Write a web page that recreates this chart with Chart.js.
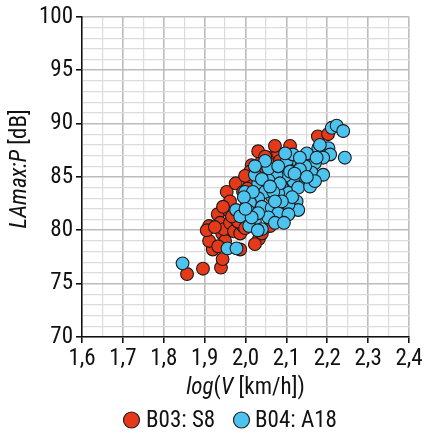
<!DOCTYPE html>
<html><head><meta charset="utf-8">
<script src="https://cdn.jsdelivr.net/npm/chart.js@4.4.1/dist/chart.umd.min.js"></script>
<style>html,body{margin:0;padding:0;background:#fff}#wrap{width:426px;height:433px}</style>
</head><body><div id="wrap"><canvas id="c" width="426" height="433"></canvas></div>
<script>
const seriesNames = ['B03: S8', 'B04: A18'];
const seriesColors = ['#e5391a', '#4dc3f0'];
// B03: S8  [log(V), LAmax]
const redX = [1.857,1.896,1.940,1.944,1.920,1.911,1.911,1.932,1.938,1.954,1.976,1.943,1.950,1.933,1.947,1.962,1.972,1.987,1.960,1.977,1.994,2.033,1.982,1.999,1.991,2.003,2.011,2.015,2.040,2.056,2.080,2.064,2.097,2.177,2.202,2.031,2.048,2.011,1.999,1.994,2.023,2.048,2.060,2.040,2.023,1.987,1.962,1.945,1.967,2.072,2.109,2.084,1.905,1.925,2.005,2.035,2.070,2.090];
const redY = [75.9,76.4,76.5,77.3,78.2,79.0,80.4,81.5,80.7,83.6,84.4,79.7,79.0,78.5,80.1,80.7,79.9,79.7,81.8,81.0,80.4,79.2,80.8,80.2,81.5,82.7,84.4,86.1,86.5,86.8,87.2,86.1,81.3,88.8,89.0,87.4,86.9,85.5,85.1,83.6,83.2,81.8,80.4,79.7,78.7,78.2,82.7,82.2,81.3,87.9,87.9,86.5,80.0,80.3,83.9,85.8,85.6,84.8];
// B04: A18
const blueX = [2.211,2.223,2.239,2.243,2.203,2.178,2.207,2.190,2.170,2.150,2.125,2.101,2.116,2.137,2.162,2.190,2.137,2.117,2.097,2.076,2.056,2.031,2.023,2.089,2.105,2.129,2.125,2.129,2.105,2.080,2.064,2.048,2.031,2.011,2.040,2.064,2.080,2.056,2.023,2.007,2.105,2.056,2.080,2.097,2.146,1.977,1.956,1.978,1.846,2.182,2.133,2.174,2.084,2.068,1.999,2.040,2.018,1.987,2.009,2.040,2.072,2.114,2.158,2.170,2.109,2.133,2.048,2.023,2.089,2.060,2.072,2.031,1.996,2.094,2.150,2.120,2.015,2.000,2.030];
const blueY = [89.6,89.8,89.3,86.8,87.7,87.7,87.1,86.8,86.3,87.2,86.6,86.5,87.1,86.1,85.4,85.2,84.7,84.6,85.1,85.2,84.7,84.4,85.2,84.0,83.5,84.0,82.7,81.9,82.4,83.5,83.2,83.6,83.0,82.6,82.2,82.1,81.6,81.2,80.8,81.8,81.5,85.8,86.0,87.2,86.0,81.9,78.3,78.3,76.9,88.0,86.8,86.8,84.4,83.6,83.6,84.8,83.6,81.3,80.4,80.1,80.7,83.1,84.1,84.6,85.5,85.7,86.5,86.0,82.7,84.1,82.7,81.6,83.1,80.7,85.0,85.3,81.2,82.0,80.0];
const xMin = 1.6, xMax = 2.4, yMin = 70, yMax = 100;

const FONT = "'Roboto Condensed','Liberation Sans Narrow','DejaVu Sans Condensed',Roboto,sans-serif";
const FS = 23;
const toPts = (xs, ys) => xs.map((x, i) => ({x, y: ys[i]}));

const decor = {
  id: 'decor',
  afterDraw(chart) {
    const ctx = chart.ctx, a = chart.chartArea;
    ctx.save();
    ctx.fillStyle = '#111';
    ctx.textBaseline = 'middle';
    const parts = [['log', true], ['(', false], ['V', true], [' [km/h])', false]];
    const f = (it) => (it ? 'italic ' : '') + FS + 'px ' + FONT;
    let w = 0; parts.forEach(p => { ctx.font = f(p[1]); w += ctx.measureText(p[0]).width; });
    let x = (a.left + a.right) / 2 - w / 2;
    parts.forEach(p => { ctx.font = f(p[1]); ctx.textAlign = 'left'; ctx.fillText(p[0], x, 388); x += ctx.measureText(p[0]).width; });
    const yp = [['LAmax:P', true], [' [dB]', false]];
    w = 0; yp.forEach(p => { ctx.font = f(p[1]); w += ctx.measureText(p[0]).width; });
    ctx.translate(20, (a.top + a.bottom) / 2 - 8);
    ctx.rotate(-Math.PI / 2);
    x = -w / 2;
    yp.forEach(p => { ctx.font = f(p[1]); ctx.fillText(p[0], x, 0); x += ctx.measureText(p[0]).width; });
    ctx.restore();
    ctx.save();
    const items = [[131.5, 146], [241.5, 255]];
    items.forEach((it, i) => {
      ctx.beginPath(); ctx.arc(it[0], 420, 8, 0, Math.PI * 2);
      ctx.fillStyle = seriesColors[i]; ctx.fill();
      ctx.lineWidth = 1.2; ctx.strokeStyle = '#222'; ctx.stroke();
      ctx.fillStyle = '#111'; ctx.font = FS + 'px ' + FONT; ctx.textAlign = 'left'; ctx.textBaseline = 'middle';
      ctx.fillText(seriesNames[i], it[1], 421);
    });
    ctx.restore();
  }
};

new Chart(document.getElementById('c'), {
  type: 'scatter',
  data: {
    datasets: [
      {label: seriesNames[0], data: toPts(redX, redY), backgroundColor: seriesColors[0], borderColor: '#1a1a1a', borderWidth: 1.1, pointRadius: 6.4, order: 2},
      {label: seriesNames[1], data: toPts(blueX, blueY), backgroundColor: seriesColors[1], borderColor: '#1a1a1a', borderWidth: 1.1, pointRadius: 6.4, order: 1}
    ]
  },
  options: {
    responsive: false, animation: false, devicePixelRatio: 1,
    layout: {padding: {top: 15, right: 17, left: 0, bottom: 0}},
    plugins: {legend: {display: false}, tooltip: {enabled: false}},
    scales: {
      x: {
        type: 'linear', min: xMin, max: xMax,
        afterBuildTicks(s) { const t = []; for (let i = 0; i <= 16; i++) t.push({value: +(1.6 + i * 0.05).toFixed(2)}); s.ticks = t; },
        afterFit(s) { s.height = 96; },
        border: {color: '#111', width: 1.5},
        grid: {
          color: c => (Math.round(c.tick.value * 100) % 10 === 0 ? '#bcbcbc' : '#dcdcdc'),
          lineWidth: c => (Math.round(c.tick.value * 100) % 10 === 0 ? 1.6 : 1.2),
          tickColor: c => (Math.round(c.tick.value * 100) % 10 === 0 ? '#111' : 'rgba(0,0,0,0)'),
          tickLength: 6
        },
        ticks: {
          autoSkip: false, maxRotation: 0, padding: 2, color: '#111', font: {family: FONT, size: FS},
          callback: v => (Math.round(v * 100) % 10 === 0 ? v.toFixed(1).replace('.', ',') : '')
        }
      },
      y: {
        type: 'linear', min: yMin, max: yMax,
        afterBuildTicks(s) { const t = []; for (let v = 70; v <= 100; v++) t.push({value: v}); s.ticks = t; },
        afterFit(s) { s.width = 82; },
        border: {color: '#111', width: 1.5},
        grid: {
          color: c => (c.tick.value % 5 === 0 ? '#bcbcbc' : '#dcdcdc'),
          lineWidth: c => (c.tick.value % 5 === 0 ? 1.6 : 1.2),
          tickColor: c => (c.tick.value % 5 === 0 ? '#111' : 'rgba(0,0,0,0)'),
          tickLength: 6
        },
        ticks: {
          autoSkip: false, padding: 3, color: '#111', font: {family: FONT, size: FS},
          callback: v => (v % 5 === 0 ? String(v) : '')
        }
      }
    }
  },
  plugins: [decor]
});
</script></body></html>
